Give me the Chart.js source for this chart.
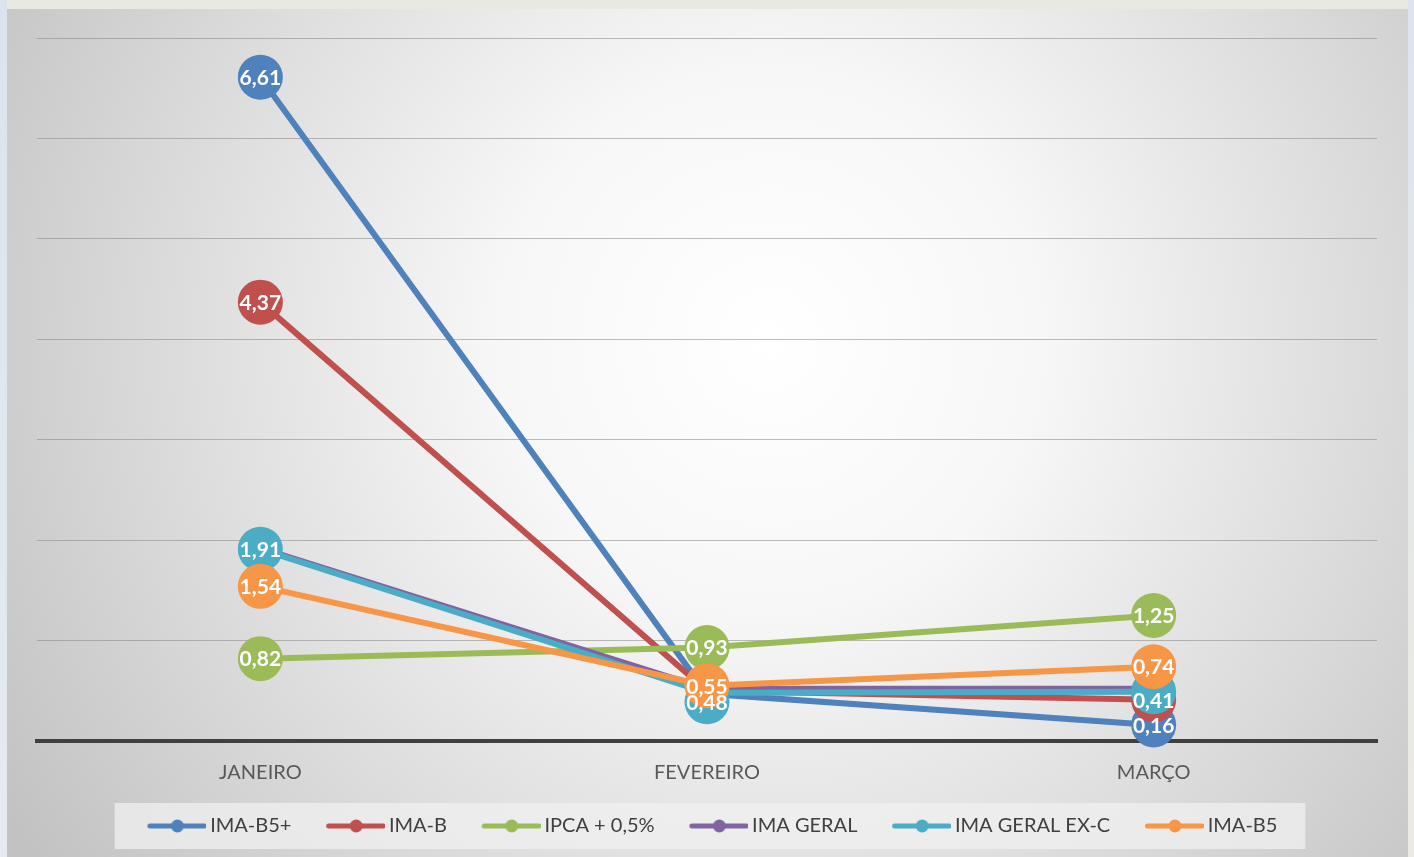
<!DOCTYPE html>
<html><head><meta charset="utf-8">
<script src="https://cdn.jsdelivr.net/npm/chart.js@4.4.1/dist/chart.umd.min.js"></script>
<style>html,body{margin:0;padding:0;background:#e8e9e4;overflow:hidden}canvas{display:block}</style>
</head><body><canvas id="c" width="1414" height="857"></canvas>
<script>
// ---- data ----
const categories = ['JANEIRO', 'FEVEREIRO', 'MARÇO'];
const seriesNames = ['IMA-B5+', 'IMA-B', 'IPCA + 0,5%', 'IMA GERAL', 'IMA GERAL EX-C', 'IMA-B5'];
const imaB5Plus   = [6.61, 0.47, 0.16];
const imaB        = [4.37, 0.50, 0.41];
const ipca05      = [0.82, 0.93, 1.25];
const imaGeral    = [1.92, 0.52, 0.52];
const imaGeralExC = [1.91, 0.48, 0.49];
const imaB5       = [1.54, 0.55, 0.74];
const yTicks      = [0, 1, 2, 3, 4, 5, 6, 7];
// which data-label bubbles / texts are visible in the original (1 = shown)
const bubbleShown = [[1,0,1],[1,0,1],[1,1,1],[0,0,0],[1,1,1],[1,1,1]];
const textShown   = [[1,0,1],[1,0,1],[1,1,1],[0,0,0],[1,1,0],[1,1,1]];

const seriesValues = [imaB5Plus, imaB, ipca05, imaGeral, imaGeralExC, imaB5];
const colors = ['#4F81BD', '#C0504D', '#9BBB59', '#8064A2', '#4BACC6', '#F79646'];
const FONT = 'Lato, "Noto Sans", sans-serif';

// legend symbol: line with a dot; transparent margin on the left keeps spacing like the original
function legendSymbol(color) {
  const c = document.createElement('canvas');
  c.width = 76; c.height = 14;
  const g = c.getContext('2d');
  g.strokeStyle = color; g.lineWidth = 5; g.lineCap = 'round';
  g.beginPath(); g.moveTo(19.5, 7); g.lineTo(74, 7); g.stroke();
  g.fillStyle = color; g.beginPath(); g.arc(47, 7, 6.5, 0, Math.PI * 2); g.fill();
  return c;
}
const symbols = colors.map(legendSymbol);

const fmt = v => v.toFixed(2).replace('.', ',');

const backgroundPlugin = {
  id: 'bg',
  beforeDraw(chart) {
    const ctx = chart.ctx, W = chart.width, H = chart.height;
    ctx.save();
    ctx.fillStyle = '#e9e9e4'; ctx.fillRect(0, 0, W, H);
    const lg = ctx.createLinearGradient(0, 0, 0, H);
    lg.addColorStop(0, '#dbe3ee'); lg.addColorStop(1, '#e6ebf1');
    ctx.fillStyle = lg; ctx.fillRect(0, 0, 7, H);
    const rg = ctx.createLinearGradient(0, 0, 0, H);
    rg.addColorStop(0, '#dde4ee'); rg.addColorStop(1, '#ecebe2');
    ctx.fillStyle = rg; ctx.fillRect(1408, 0, W - 1408, H);
    const g = ctx.createRadialGradient(770, 340, 0, 770, 340, 900);
    g.addColorStop(0, '#ffffff'); g.addColorStop(0.3, '#f7f7f7');
    g.addColorStop(0.7, '#d9d9d9'); g.addColorStop(1, '#c2c2c2');
    ctx.fillStyle = g; ctx.fillRect(7, 9, 1401, H - 9);
    // legend backing box
    const lgd = chart.legend;
    if (lgd && lgd.legendHitBoxes && lgd.legendHitBoxes.length) {
      const hb = lgd.legendHitBoxes;
      const l = Math.min(...hb.map(b => b.left)) - 22;
      const r = Math.max(...hb.map(b => b.left + b.width)) + 28;
      const cy = hb[0].top + hb[0].height / 2;
      ctx.fillStyle = 'rgba(240,240,240,0.75)';
      ctx.fillRect(l, cy - 23, r - l, 46);
    }
    ctx.restore();
  }
};

const bubbleLabelPlugin = {
  id: 'bubbleLabels',
  afterDatasetsDraw(chart, args, opts) {
    const ctx = chart.ctx;
    const nudge = opts.nudge || {};
    const pos = [];
    chart.data.datasets.forEach((ds, i) => {
      const meta = chart.getDatasetMeta(i);
      pos[i] = meta.data.map((el, j) => ({x: el.x, y: el.y + ((nudge[i] && nudge[i][j]) || 0)}));
    });
    ctx.save();
    chart.data.datasets.forEach((ds, i) => {
      pos[i].forEach((p, j) => {
        if (!bubbleShown[i][j]) return;
        ctx.fillStyle = colors[i];
        ctx.beginPath(); ctx.arc(p.x, p.y, opts.radius, 0, Math.PI * 2); ctx.fill();
      });
    });
    ctx.fillStyle = '#ffffff';
    ctx.font = 'bold 21px ' + FONT;
    ctx.textAlign = 'center'; ctx.textBaseline = 'middle';
    chart.data.datasets.forEach((ds, i) => {
      pos[i].forEach((p, j) => {
        if (!textShown[i][j]) return;
        ctx.fillText(fmt(ds.data[j]), p.x, p.y + 1);
      });
    });
    ctx.restore();
  }
};

new Chart(document.getElementById('c'), {
  type: 'line',
  data: {
    labels: categories,
    datasets: seriesNames.map((name, i) => ({
      label: name,
      data: seriesValues[i],
      borderColor: colors[i],
      backgroundColor: colors[i],
      borderWidth: 6,
      pointRadius: 5,
      pointBorderWidth: 0,
      pointBackgroundColor: colors[i],
      tension: 0,
      order: -i
    }))
  },
  options: {
    responsive: false,
    animation: false,
    layout: {padding: {left: 37, right: 37, top: 38, bottom: 11}},
    scales: {
      x: {
        offset: true,
        grid: {display: false, drawTicks: false, offset: true},
        border: {display: true, color: '#404040', width: 4},
        ticks: {color: '#595959', font: {family: FONT, size: 20}, padding: 20},
        afterFit: s => { s.height = 51; }
      },
      y: {
        min: 0, max: 7,
        afterBuildTicks: s => { s.ticks = yTicks.map(v => ({value: v})); },
        ticks: {display: false},
        grid: {color: 'rgba(135,135,135,0.55)', lineWidth: 1, drawTicks: false},
        border: {display: false}
      }
    },
    plugins: {
      tooltip: {enabled: false},
      legend: {
        position: 'bottom',
        labels: {
          usePointStyle: true,
          pointStyleWidth: 63.5,
          padding: 24,
          color: '#404040',
          font: {family: FONT, size: 20},
          generateLabels: chart => chart.data.datasets.map((ds, i) => ({
            text: ds.label, pointStyle: symbols[i], datasetIndex: i,
            fillStyle: colors[i], strokeStyle: colors[i], lineWidth: 0,
            fontColor: '#404040', hidden: false
          }))
        }
      },
      bubbleLabels: {radius: 22.5, nudge: {4: {1: 9}}}
    }
  },
  plugins: [backgroundPlugin, bubbleLabelPlugin]
});
</script>
</body></html>
